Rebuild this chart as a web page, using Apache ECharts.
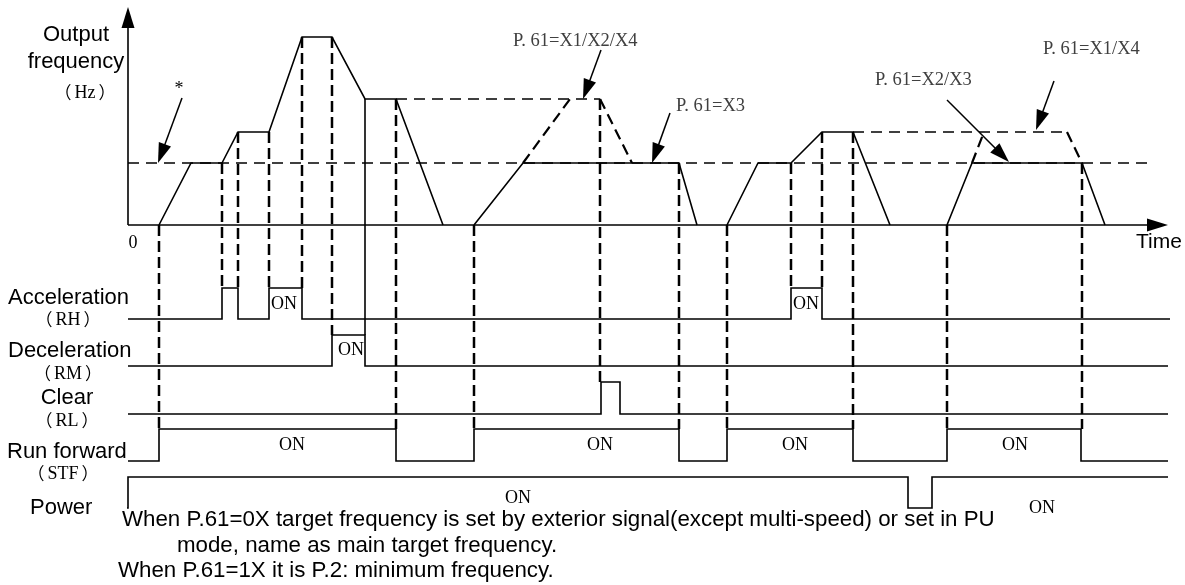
<!DOCTYPE html>
<html>
<head>
<meta charset="utf-8">
<script src="https://cdn.jsdelivr.net/npm/echarts@6/dist/echarts.min.js"></script>
<style>
html,body{margin:0;padding:0;background:#fff;}
#chart{width:1185px;height:585px;}
</style>
</head>
<body>
<div id="chart"></div>
<script>
// ---------------- DATA (diagram time units / frequency units) ----------------
// Actual output frequency (solid), four runs
const outTimesA = [31, 63, 94, 110, 141, 174, 204, 237, 268, 315];
const outFreqA  = [0, 62, 62, 93, 93, 188, 188, 126, 126, 0];
const outTimesB = [346, 395, 551, 569];
const outFreqB  = [0, 62, 62, 0];
const outTimesC = [599, 630, 663, 694, 725, 762];
const outFreqC  = [0, 62, 62, 93, 93, 0];
const outTimesD = [819, 844, 954, 977];
const outFreqD  = [0, 62, 62, 0];

// Alternative (P.61 dependent) profiles, dashed
const altTimes1 = [268, 472, 504];
const altFreq1  = [126, 126, 62];
const altTimes2 = [395, 442];
const altFreq2  = [62, 126];
const altTimes3 = [725, 939, 954];
const altFreq3  = [93, 93, 62];
const altTimes4 = [844, 856];
const altFreq4  = [62, 93];

// Minimum / main target frequency (dashed reference "*")
const minFreq = 62;
const minFreqSpan = [0, 1020];

// Axis extents
const timeAxisEnd = 1040;
const freqAxisTop = 218;

// Digital signals: toggle times (start low)
const rhEdges    = [94, 110, 141, 174, 663, 694];
const rhSpan     = [0, 1050];
const rmEdges    = [204, 237];
const rmSpan     = [0, 1040];
const rlEdges    = [473, 492];
const rlSpan     = [0, 1040];
const stfEdges   = [31, 268, 346, 551, 599, 725, 819, 953];
const stfSpan    = [0, 1040];
const powerEdges = [0, 780, 804];
const powerSpan  = [-16, 1040];

// Dashed guides from frequency profile down to signal edges
const guideTimes = [31, 94, 110, 141, 174, 204, 268, 346, 472, 551, 599, 663, 694, 725, 819, 954];
const guideFreq  = [0, 62, 93, 93, 188, 188, 126, 0, 126, 62, 0, 62, 93, 93, 0, 62];
const guideTo    = ['STF','RH','RH','RH','RH','RM','STF','STF','RL','STF','STF','RH','RH','STF','STF','STF'];

// Solid drop from frequency step to RM falling edge
const dropTime = 237, dropFreq = 126, dropTo = 'RM';

// Annotation arrows [fromT, fromF, toT, toF]
const noteArrows = [
  [54, 127, 30, 62],
  [473, 175, 455, 126],
  [542, 112, 524, 62],
  [819, 125, 881, 63],
  [926, 144, 908, 95]
];

// Texts
const leftLabels = ['Output', 'frequency', 'Hz', 'Acceleration', 'RH', 'Deceleration', 'RM',
  'Clear', 'RL', 'Run forward', 'STF', 'Power'];
const noteTexts = ['P. 61=X1/X2/X4', 'P. 61=X3', 'P. 61=X2/X3', 'P. 61=X1/X4'];
const footLines = [
  'When P.61=0X target frequency is set by exterior signal(except multi-speed) or set in PU',
  'mode, name as main target frequency.',
  'When P.61=1X it is P.2: minimum frequency.'
];

// ---------------- LAYOUT (rows in frequency-axis units) ----------------
const rows = {
  RH:    {low: -94,  h: 31},
  RM:    {low: -141, h: 31},
  RL:    {low: -189, h: 32},
  STF:   {low: -236, h: 32},
  POWER: {low: -283, h: 31}
};
const SANS = "'Liberation Sans', Arial, sans-serif";
const SERIF = "'Liberation Serif', 'Noto Sans CJK SC', serif";
const CJK = "'Noto Sans CJK SC', sans-serif";

function zip(ts, fs) { return ts.map((t, i) => [t, fs[i]]); }
function stepPoints(edges, span, row) {
  const lo = row.low, hi = row.low + row.h;
  const pts = [[span[0], lo]];
  let lvl = lo;
  edges.forEach(e => { pts.push([e, lvl]); lvl = (lvl === lo) ? hi : lo; pts.push([e, lvl]); });
  pts.push([span[1], lvl]);
  return pts;
}
function highOf(name) { const r = rows[name]; return r.low + r.h; }

const solidStyle = {color: '#000', width: 1.6, type: 'solid'};
const thinDash = {color: '#000', width: 1.6, type: [11, 7]};
const slopeDash = {color: '#000', width: 2.2, type: [11, 6]};
const guideDash = {color: '#000', width: 2.5, type: [11, 5]};

const series = [];
function addLine(data, style) {
  series.push({type: 'line', data: data, showSymbol: false, symbol: 'none', clip: false,
    lineStyle: Object.assign({cap: 'butt', join: 'miter'}, style), silent: true, z: 3});
}

// reference dashed line
addLine([[minFreqSpan[0], minFreq], [minFreqSpan[1], minFreq]], thinDash);
// alternatives
addLine(zip(altTimes1.slice(0, 2), altFreq1.slice(0, 2)), thinDash);
addLine(zip(altTimes1.slice(1), altFreq1.slice(1)), slopeDash);
addLine(zip(altTimes2, altFreq2), slopeDash);
addLine(zip(altTimes3.slice(0, 2), altFreq3.slice(0, 2)), thinDash);
addLine(zip(altTimes3.slice(1), altFreq3.slice(1)), slopeDash);
addLine(zip(altTimes4, altFreq4), slopeDash);
// actual output
addLine(zip(outTimesA, outFreqA), solidStyle);
addLine(zip(outTimesB, outFreqB), solidStyle);
addLine(zip(outTimesC, outFreqC), solidStyle);
addLine(zip(outTimesD, outFreqD), solidStyle);
addLine([[dropTime, dropFreq], [dropTime, highOf(dropTo)]], solidStyle);
// guides
guideTimes.forEach((t, i) => addLine([[t, guideFreq[i]], [t, highOf(guideTo[i])]], guideDash));
// signals
addLine(stepPoints(rhEdges, rhSpan, rows.RH), solidStyle);
addLine(stepPoints(rmEdges, rmSpan, rows.RM), solidStyle);
addLine(stepPoints(rlEdges, rlSpan, rows.RL), solidStyle);
addLine(stepPoints(stfEdges, stfSpan, rows.STF), solidStyle);
addLine(stepPoints(powerEdges, powerSpan, rows.POWER), solidStyle);

function arrowRender(headLen, headW, lw) {
  return function (params, api) {
    const p1 = api.coord([api.value(0), api.value(1)]);
    const p2 = api.coord([api.value(2), api.value(3)]);
    const dx = p2[0] - p1[0], dy = p2[1] - p1[1];
    const L = Math.hypot(dx, dy) || 1;
    const ux = dx / L, uy = dy / L;
    const bx = p2[0] - ux * headLen, by = p2[1] - uy * headLen;
    const nx = -uy, ny = ux;
    return {type: 'group', children: [
      {type: 'line', shape: {x1: p1[0], y1: p1[1], x2: bx + ux, y2: by + uy}, style: {stroke: '#000', lineWidth: lw}},
      {type: 'polygon', shape: {points: [[p2[0], p2[1]], [bx + nx * headW / 2, by + ny * headW / 2], [bx - nx * headW / 2, by - ny * headW / 2]]},
        style: {fill: '#000'}}
    ]};
  };
}
// axes with arrows
series.push({type: 'custom', renderItem: arrowRender(21, 13, 1.6), clip: false, silent: true, z: 4,
  data: [[0, 0, timeAxisEnd, 0], [0, 0, 0, freqAxisTop]]});
// annotation arrows
series.push({type: 'custom', renderItem: arrowRender(20, 13, 1.5), clip: false, silent: true, z: 4,
  data: noteArrows});

function txt(text, x, y, font, size, align, color) {
  return {type: 'text', x: x, y: y, silent: true, z: 10,
    style: {text: text, font: size + 'px ' + font, fill: color || '#000', align: align || 'left', verticalAlign: 'middle'}};
}
function paren(text, x, y) {
  return {type: 'text', x: x, y: y, silent: true, z: 10,
    style: {text: '{p|（}{t|' + text + '}{p|）}', align: 'center', verticalAlign: 'middle',
      rich: {p: {font: '17px ' + CJK, fill: '#000'}, t: {font: '18px ' + SERIF, fill: '#000', padding: [0, 3]}}}};
}
const graphics = [
  txt(leftLabels[0], 76, 35, SANS, 22, 'center'),
  txt(leftLabels[1], 76, 62, SANS, 22, 'center'),
  paren(leftLabels[2], 85, 93),
  txt('*', 179, 89, SERIF, 18, 'center'),
  txt('0', 133, 243, SERIF, 18, 'center'),
  txt('Time', 1136, 242, SANS, 21, 'left'),
  txt(leftLabels[3], 8, 298, SANS, 22, 'left'),
  paren(leftLabels[4], 68, 320),
  txt(leftLabels[5], 8, 351, SANS, 22, 'left'),
  paren(leftLabels[6], 68, 374),
  txt(leftLabels[7], 67, 398, SANS, 22, 'center'),
  paren(leftLabels[8], 67, 421),
  txt(leftLabels[9], 7, 452, SANS, 22, 'left'),
  paren(leftLabels[10], 63, 474),
  txt(leftLabels[11], 30, 508, SANS, 22, 'left'),
  // ON labels
  txt('ON', 284, 304, SERIF, 18, 'center'),
  txt('ON', 351, 350, SERIF, 18, 'center'),
  txt('ON', 806, 304, SERIF, 18, 'center'),
  txt('ON', 292, 445, SERIF, 18, 'center'),
  txt('ON', 600, 445, SERIF, 18, 'center'),
  txt('ON', 795, 445, SERIF, 18, 'center'),
  txt('ON', 1015, 445, SERIF, 18, 'center'),
  txt('ON', 518, 498, SERIF, 18, 'center'),
  txt('ON', 1042, 508, SERIF, 18, 'center'),
  // notes
  txt(noteTexts[0], 513, 41, SERIF, 18.5, 'left', '#404040'),
  txt(noteTexts[1], 676, 106, SERIF, 18.5, 'left', '#404040'),
  txt(noteTexts[2], 875, 80, SERIF, 18.5, 'left', '#404040'),
  txt(noteTexts[3], 1043, 49, SERIF, 18.5, 'left', '#404040'),
  // footnote
  txt(footLines[0], 122, 520, SANS, 22.3, 'left'),
  txt(footLines[1], 177, 546, SANS, 22.3, 'left'),
  txt(footLines[2], 118, 571, SANS, 22.3, 'left')
];

const chart = echarts.init(document.getElementById('chart'), null, {renderer: 'canvas'});
chart.setOption({
  animation: false,
  backgroundColor: '#fff',
  grid: {left: 128, top: 7, width: 1040, height: 501, containLabel: false},
  xAxis: {type: 'value', min: 0, max: timeAxisEnd, show: false},
  yAxis: {type: 'value', min: -283, max: freqAxisTop, show: false},
  series: series,
  graphic: graphics
});
</script>
</body>
</html>
